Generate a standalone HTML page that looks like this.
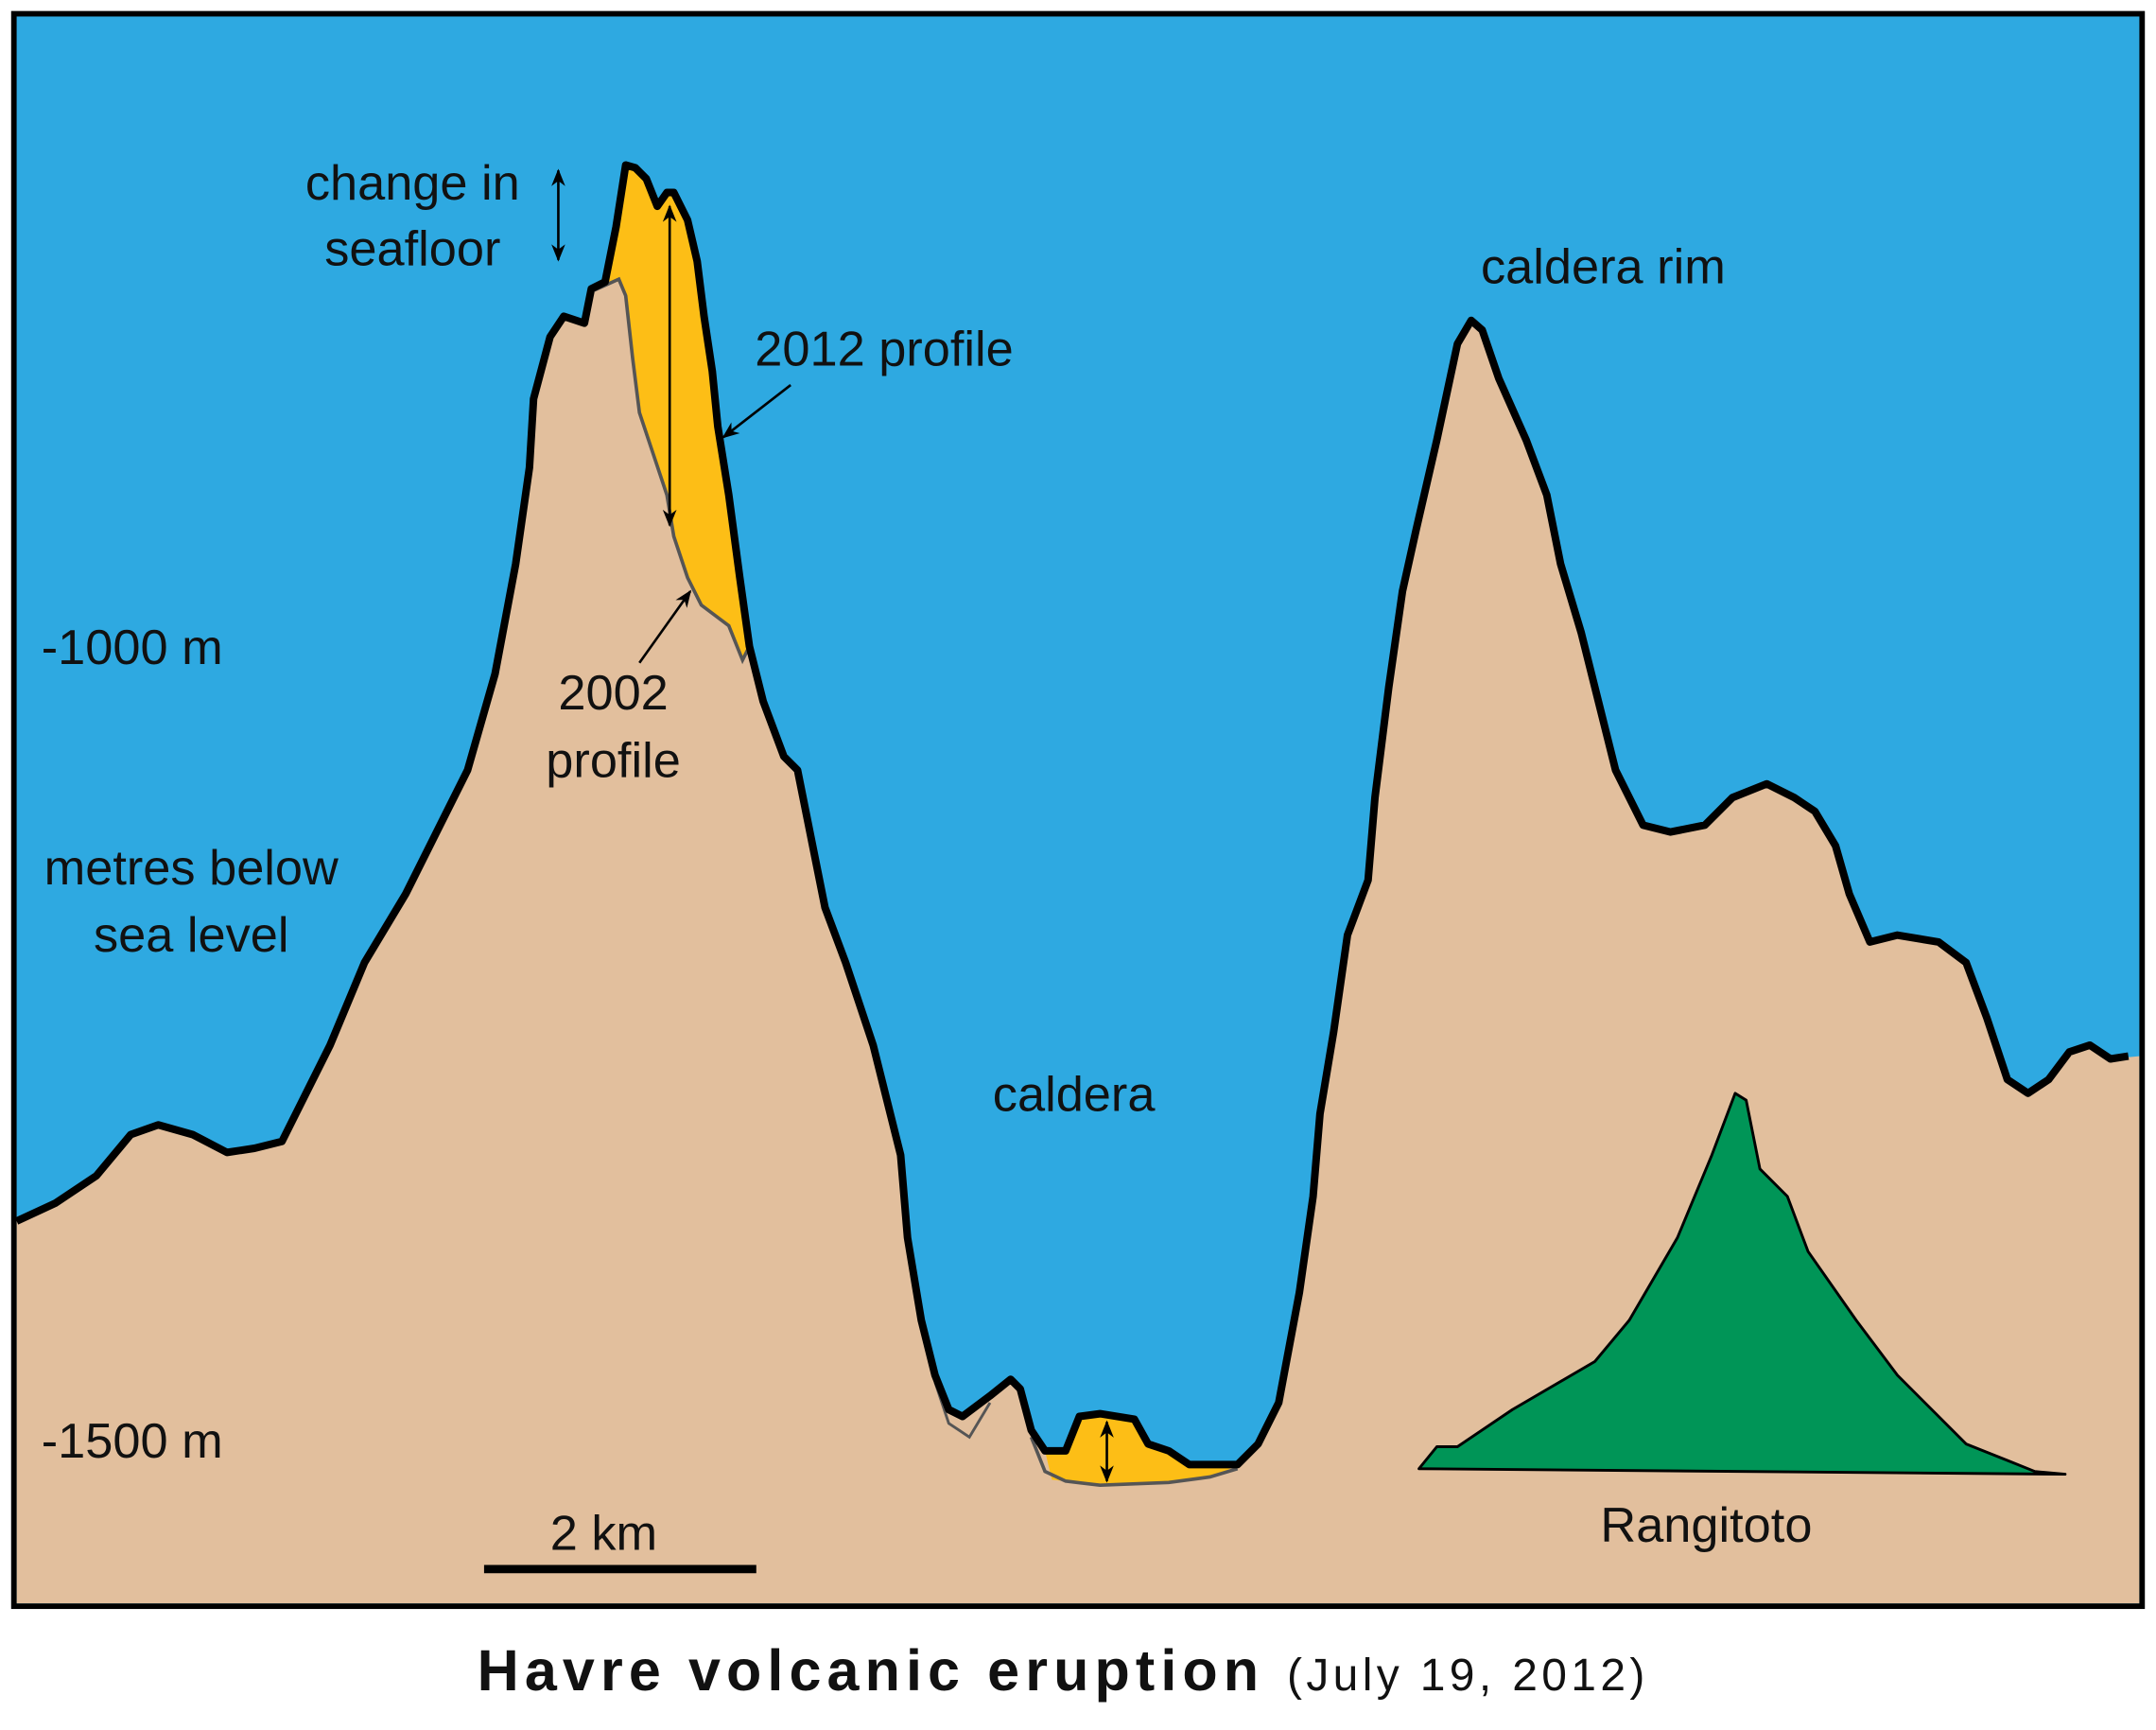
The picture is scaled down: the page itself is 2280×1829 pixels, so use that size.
<!DOCTYPE html>
<html><head><meta charset="utf-8"><style>
html,body{margin:0;padding:0;background:#fff;}
svg{display:block;}
text{font-family:"Liberation Sans",sans-serif;fill:#111;}
</style></head><body>
<svg width="2280" height="1829" viewBox="0 0 1568 1258" xmlns="http://www.w3.org/2000/svg">
<defs>
<marker id="ah" viewBox="0 0 10 10" refX="9" refY="5" markerWidth="7" markerHeight="7" orient="auto-start-reverse"><path d="M0,1 L10,5 L0,9 L3,5z" fill="#000"/></marker>
</defs>
<rect x="10" y="10" width="1548" height="1158" fill="#2EA9E1"/>
<polygon fill="#E2BF9D" points="12,888 40,875 70,855 95,825 115,818 140,825 165,838 185,835 205,830 220,800 240,760 265,700 295,650 320,600 340,560 360,490 375,410 385,340 388,290 400,245 410,230 425,235 430,210 440,205 448,165 455,120 462,122 470,130 478,150 485,140 490,140 500,160 507,190 512,230 518,270 522,310 530,360 538,420 545,470 555,510 570,550 580,560 590,610 600,660 615,700 625,730 635,760 645,800 655,840 660,900 670,960 680,1000 690,1025 700,1030 720,1015 735,1003 742,1010 750,1040 760,1055 775,1055 785,1030 800,1028 825,1032 835,1050 850,1055 865,1065 885,1065 900,1065 915,1050 930,1020 945,940 955,870 960,810 970,750 980,680 995,640 1000,580 1010,500 1020,430 1030,385 1045,320 1060,250 1070,233 1078,240 1090,275 1110,320 1125,360 1135,410 1150,460 1165,520 1175,560 1195,600 1215,605 1240,600 1260,580 1285,570 1305,580 1320,590 1335,615 1345,650 1360,685 1380,680 1410,685 1430,700 1445,740 1460,785 1475,795 1490,785 1505,765 1520,760 1535,770 1556,768 1556,1166 12,1166"/>
<polygon fill="#FDBE16" points="440,205 448,165 455,120 462,122 470,130 478,150 485,140 490,140 500,160 507,190 512,230 518,270 522,310 530,360 538,420 545,470 540,480 530,455 510,440 500,420 490,390 485,360 475,330 465,300 460,260 455,215 450,205"/>
<polygon fill="#FDBE16" points="760,1055 775,1055 785,1030 800,1028 825,1032 835,1050 850,1055 865,1065 885,1065 895,1068 880,1074 850,1078 800,1080 765,1076"/>
<polyline fill="none" stroke="#555" stroke-width="2.5" points="430,212 450,203 455,215 460,260 465,300 475,330 485,360 490,390 500,420 510,440 530,455 540,480 545,470"/>
<polyline fill="none" stroke="#555" stroke-width="2.5" points="750,1045 760,1070 775,1077 800,1080 850,1078 880,1074 900,1068"/>
<polyline fill="none" stroke="#555" stroke-width="2" points="680,1005 690,1035 705,1045 720,1020"/>
<polyline fill="none" stroke="#000" stroke-width="5.5" stroke-linejoin="round" points="12,888 40,875 70,855 95,825 115,818 140,825 165,838 185,835 205,830 220,800 240,760 265,700 295,650 320,600 340,560 360,490 375,410 385,340 388,290 400,245 410,230 425,235 430,210 440,205 448,165 455,120 462,122 470,130 478,150 485,140 490,140 500,160 507,190 512,230 518,270 522,310 530,360 538,420 545,470 555,510 570,550 580,560 590,610 600,660 615,700 625,730 635,760 645,800 655,840 660,900 670,960 680,1000 690,1025 700,1030 720,1015 735,1003 742,1010 750,1040 760,1055 775,1055 785,1030 800,1028 825,1032 835,1050 850,1055 865,1065 885,1065 900,1065 915,1050 930,1020 945,940 955,870 960,810 970,750 980,680 995,640 1000,580 1010,500 1020,430 1030,385 1045,320 1060,250 1070,233 1078,240 1090,275 1110,320 1125,360 1135,410 1150,460 1165,520 1175,560 1195,600 1215,605 1240,600 1260,580 1285,570 1305,580 1320,590 1335,615 1345,650 1360,685 1380,680 1410,685 1430,700 1445,740 1460,785 1475,795 1490,785 1505,765 1520,760 1535,770 1548,768"/>
<polygon fill="#009557" stroke="#000" stroke-width="2" stroke-linejoin="round" points="1032,1068 1045,1052 1060,1052 1100,1025 1160,990 1185,960 1220,900 1245,840 1262,795 1270,800 1280,850 1300,870 1315,910 1350,960 1380,1000 1410,1030 1430,1050 1460,1062 1480,1070 1502,1072"/>
<line x1="406" y1="124" x2="406" y2="189" stroke="#000" stroke-width="1.8" marker-start="url(#ah)" marker-end="url(#ah)"/>
<line x1="487" y1="150" x2="487" y2="382" stroke="#000" stroke-width="1.8" marker-start="url(#ah)" marker-end="url(#ah)"/>
<line x1="805" y1="1034" x2="805" y2="1077" stroke="#000" stroke-width="1.8" marker-start="url(#ah)" marker-end="url(#ah)"/>
<line x1="575" y1="280" x2="526" y2="318" stroke="#000" stroke-width="1.8" marker-end="url(#ah)"/>
<line x1="465" y1="482" x2="502" y2="430" stroke="#000" stroke-width="1.8" marker-end="url(#ah)"/>
<rect x="10" y="10" width="1548" height="1158" fill="none" stroke="#000" stroke-width="4"/>
<g font-size="36">
<text x="300" y="145" text-anchor="middle">change in</text>
<text x="300" y="193" text-anchor="middle">seafloor</text>
<text x="643" y="266" text-anchor="middle">2012 profile</text>
<text x="446" y="516" text-anchor="middle">2002</text>
<text x="446" y="565" text-anchor="middle">profile</text>
<text x="1166" y="206" text-anchor="middle">caldera rim</text>
<text x="781" y="808" text-anchor="middle">caldera</text>
<text x="30" y="483">-1000 m</text>
<text x="30" y="1060">-1500 m</text>
<text x="139" y="643" text-anchor="middle">metres below</text>
<text x="139" y="692" text-anchor="middle">sea level</text>
<text x="439" y="1127" text-anchor="middle">2 km</text>
<text x="1241" y="1121" text-anchor="middle">Rangitoto</text>
</g>
<line x1="352" y1="1141" x2="550" y2="1141" stroke="#000" stroke-width="6"/>
<text x="347" y="1229" font-size="42" font-weight="bold" letter-spacing="4.2" fill="#222">Havre volcanic eruption</text>
<text x="936" y="1229" font-size="33" letter-spacing="3" fill="#222">(July 19, 2012)</text>
</svg>
</body></html>
